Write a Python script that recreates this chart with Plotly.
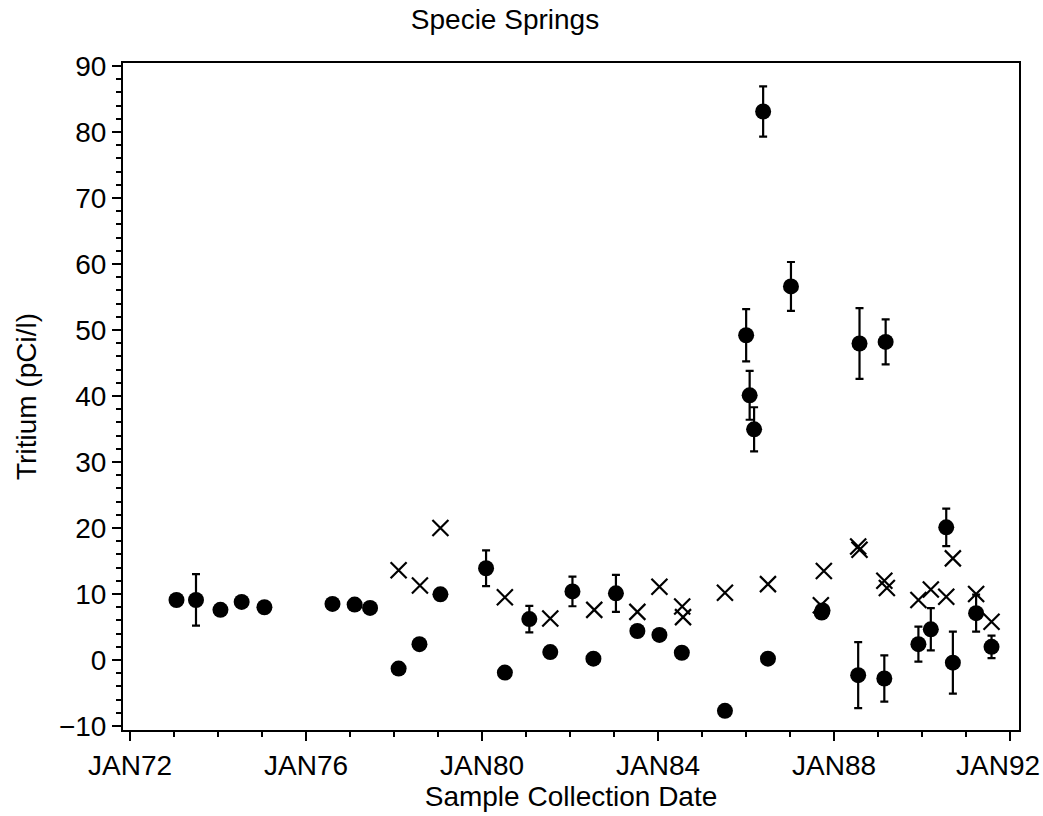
import plotly.graph_objects as go

# ---- data ----
circle_dates = [
    "1973-01-20", "1973-07-01", "1974-01-20", "1974-07-15", "1975-01-20",
    "1976-08-07", "1977-02-07", "1977-06-15", "1978-02-07", "1978-07-30",
    "1979-01-20", "1980-02-03", "1980-07-08", "1981-01-27", "1981-07-20",
    "1982-01-20", "1982-07-13", "1983-01-16", "1983-07-13", "1984-01-12",
    "1984-07-16", "1985-07-09", "1986-01-01", "1986-01-30", "1986-03-08",
    "1986-05-22", "1986-07-01", "1987-01-08", "1987-09-20", "1987-09-27",
    "1988-07-19", "1988-07-30", "1989-02-21", "1989-03-04", "1989-12-01",
    "1990-03-14", "1990-07-20", "1990-09-13", "1991-03-25", "1991-07-31",
]
circle_values = [
    9.1, 9.1, 7.6, 8.8, 8.0,
    8.5, 8.4, 7.9, -1.3, 2.4,
    9.95, 13.9, -1.9, 6.2, 1.2,
    10.4, 0.2, 10.1, 4.4, 3.8,
    1.1, -7.7, 49.2, 40.1, 34.95,
    83.1, 0.2, 56.6, 7.2, 7.5,
    -2.3, 47.95, -2.8, 48.2, 2.4,
    4.65, 20.1, -0.4, 7.1, 2.0,
]
circle_errors = [
    None, 3.9, None, None, None,
    None, None, None, None, None,
    None, 2.7, None, 2.0, None,
    2.25, None, 2.8, None, None,
    None, None, 3.95, 3.7, 3.35,
    3.8, None, 3.7, None, None,
    5.0, 5.35, 3.5, 3.4, 2.65,
    3.2, 2.85, 4.7, 2.8, 1.7,
]

cross_dates = [
    "1978-02-07", "1978-08-03", "1979-01-20", "1980-07-08", "1981-07-20",
    "1982-07-20", "1983-07-13", "1984-01-12", "1984-07-19", "1984-07-26",
    "1985-07-09", "1986-07-01", "1987-10-08", "1987-09-13", "1988-07-19",
    "1988-07-30", "1989-02-21", "1989-03-14", "1989-12-01", "1990-03-14",
    "1990-07-20", "1990-09-13", "1991-03-25", "1991-07-31",
]
cross_values = [
    13.6, 11.3, 20.0, 9.5, 6.3,
    7.6, 7.3, 11.1, 8.1, 6.5,
    10.2, 11.5, 13.5, 8.3, 17.2,
    16.7, 12.0, 10.9, 9.1, 10.7,
    9.6, 15.4, 10.0, 5.8,
]

tick_dates = ["1972-01-01", "1976-01-01", "1980-01-01", "1984-01-01", "1988-01-01", "1992-01-01"]
tick_labels = ["JAN72", "JAN76", "JAN80", "JAN84", "JAN88", "JAN92"]
y_ticks = [-10, 0, 10, 20, 30, 40, 50, 60, 70, 80, 90]

FONT = "Liberation Sans, Arial, sans-serif"

# the last label is drawn as an annotation nudged left so it stays inside the page
shown_labels = tick_labels[:-1] + [""]

fig = go.Figure()
fig.add_trace(go.Scatter(
    x=cross_dates, y=cross_values, mode="markers",
    marker=dict(symbol="x-thin", size=16, color="black", line=dict(width=2.2, color="black")),
    showlegend=False,
))
fig.add_trace(go.Scatter(
    x=circle_dates, y=circle_values, mode="markers",
    marker=dict(symbol="circle", size=16, color="black"),
    error_y=dict(type="data", array=circle_errors, visible=True,
                 color="black", thickness=2.2, width=4),
    showlegend=False,
))

fig.add_annotation(
    x=tick_dates[-1], xref="x", y=0, yref="paper",
    text=tick_labels[-1], showarrow=False,
    xanchor="center", yanchor="top", xshift=-12, yshift=-18,
    font=dict(family=FONT, size=28, color="black"),
)

fig.update_layout(
    width=1043, height=816,
    paper_bgcolor="white", plot_bgcolor="white",
    margin=dict(l=123, r=24, t=63, b=86, autoexpand=False),
    font=dict(family=FONT, size=28, color="black"),
    title=dict(text="Specie Springs", x=505 / 1043, xref="container", xanchor="center",
               y=1 - 19 / 816, yref="container", yanchor="middle",
               font=dict(family=FONT, size=28, color="black")),
    showlegend=False,
)
fig.update_xaxes(
    type="date", automargin=False,
    range=["1971-11-03", "1992-03-15"],
    tickmode="array", tickvals=tick_dates, ticktext=shown_labels,
    ticks="outside", ticklen=9, tickwidth=2, tickcolor="black",
    minor=dict(dtick="M12", tick0="1972-01-01", ticks="outside", ticklen=5, tickwidth=1.5, tickcolor="black"),
    showline=True, linecolor="black", linewidth=2, mirror=True,
    showgrid=False, zeroline=False,
    tickfont=dict(family=FONT, size=28, color="black"),
    title=dict(text="Sample Collection Date", standoff=4,
               font=dict(family=FONT, size=28, color="black")),
)
fig.update_yaxes(
    automargin=False,
    range=[-10.6, 90.45],
    tickmode="array", tickvals=y_ticks,
    ticks="outside", ticklen=9, tickwidth=2, tickcolor="black",
    minor=dict(dtick=2, tick0=0, ticks="outside", ticklen=5, tickwidth=1.5, tickcolor="black"),
    showline=True, linecolor="black", linewidth=2, mirror=True,
    showgrid=False, zeroline=False,
    tickfont=dict(family=FONT, size=28, color="black"),
    title=dict(text="Tritium (pCi/l)", standoff=14,
               font=dict(family=FONT, size=28, color="black")),
)

fig.write_html("out.html", config={"displayModeBar": False},
               post_script="document.body.style.margin='0';")
